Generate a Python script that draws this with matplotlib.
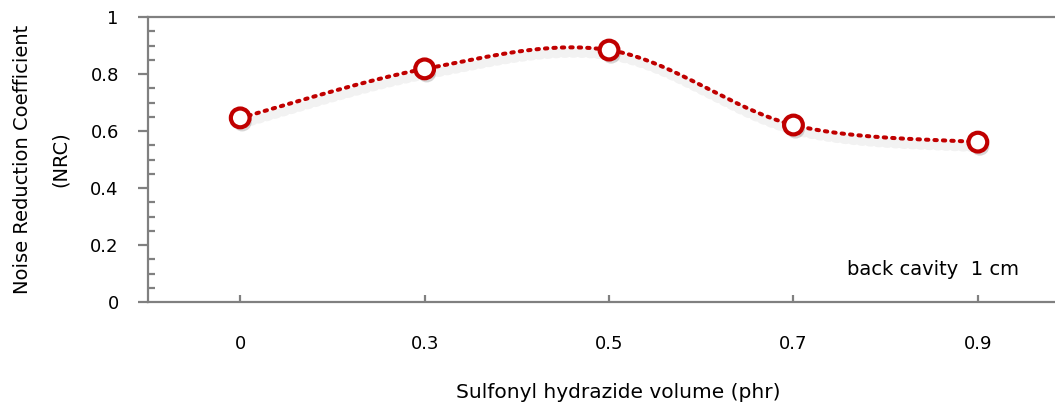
import numpy as np
import matplotlib
matplotlib.use('Agg')
import matplotlib.pyplot as plt
import matplotlib.patheffects as pe
from matplotlib.ticker import MultipleLocator

# data
volume_labels = ['0', '0.3', '0.5', '0.7', '0.9']
nrc = [0.646, 0.818, 0.884, 0.621, 0.561]
y_ticks = [0, 0.2, 0.4, 0.6, 0.8, 1.0]
y_tick_labels = ['0', '0.2', '0.4', '0.6', '0.8', '1']

plt.rcParams['font.family'] = ['DejaVu Sans']


def smooth(xs, ys, n=40):
    # Excel-like smoothed line: cubic bezier between points, control points from neighbours
    xs = np.asarray(xs, float)
    ys = np.asarray(ys, float)
    px, py = [], []
    k = len(xs)
    for i in range(k - 1):
        p0 = np.array([xs[max(i - 1, 0)], ys[max(i - 1, 0)]])
        p1 = np.array([xs[i], ys[i]])
        p2 = np.array([xs[i + 1], ys[i + 1]])
        p3 = np.array([xs[min(i + 2, k - 1)], ys[min(i + 2, k - 1)]])
        c1 = p1 + (p2 - p0) / 6.0
        c2 = p2 - (p3 - p1) / 6.0
        t = np.linspace(0, 1, n)[:, None]
        seg = ((1 - t) ** 3) * p1 + 3 * ((1 - t) ** 2) * t * c1 + 3 * (1 - t) * t ** 2 * c2 + t ** 3 * p2
        px.extend(seg[:, 0])
        py.extend(seg[:, 1])
    return px, py


red = '#C00000'
grey = '#808080'

fig = plt.figure(figsize=(10.55, 4.08), dpi=100)
ax = fig.add_axes([0.1403, 0.2598, 0.874, 0.6985])

x = np.arange(len(nrc))
sx, sy = smooth(x, nrc)

shadow = [pe.SimpleLineShadow(offset=(1.5, -4), shadow_color='#000000', alpha=0.05, linewidth=7), pe.Normal()]
ax.plot(sx, sy, color=red, linestyle=(0, (0.6, 1.5)), linewidth=2.9,
        dash_capstyle='round', path_effects=shadow, zorder=3)
ax.plot(x, nrc, linestyle='none', marker='o', markersize=13.5, markerfacecolor='white',
        markeredgecolor=red, markeredgewidth=3.0, zorder=4,
        path_effects=[pe.SimplePatchShadow(offset=(1.5, -3), alpha=0.22), pe.Normal()])

ax.set_xlim(-0.5, 4.5)
ax.set_ylim(0, 1)
ax.set_xticks(x)
ax.set_xticklabels(volume_labels)
ax.set_yticks(y_ticks)
ax.set_yticklabels(y_tick_labels)
ax.yaxis.set_minor_locator(MultipleLocator(0.05))

for s in ['left', 'bottom', 'top']:
    ax.spines[s].set_color(grey)
    ax.spines[s].set_linewidth(1.6)
ax.spines['right'].set_visible(False)

ax.tick_params(axis='y', which='major', direction='out', length=7, width=1.6, color=grey,
               labelsize=13, pad=14)
ax.tick_params(axis='y', which='minor', direction='in', length=5, width=1.6, color=grey)
ax.tick_params(axis='x', which='major', direction='in', length=5, width=1.6, color=grey,
               labelsize=13, pad=24)

ax.set_xlabel('Sulfonyl hydrazide volume (phr)', fontsize=14.5)
ax.set_ylabel('Noise Reduction Coefficient\n(NRC)', fontsize=14, linespacing=2.3)
ax.xaxis.set_label_coords(0.51, -0.285)
ax.yaxis.set_label_coords(-0.0846, 0.5)

ax.text(0.945, 0.115, 'back cavity  1 cm', transform=ax.transAxes, fontsize=14,
        ha='right', va='center')

plt.savefig('out.png', dpi=100)
